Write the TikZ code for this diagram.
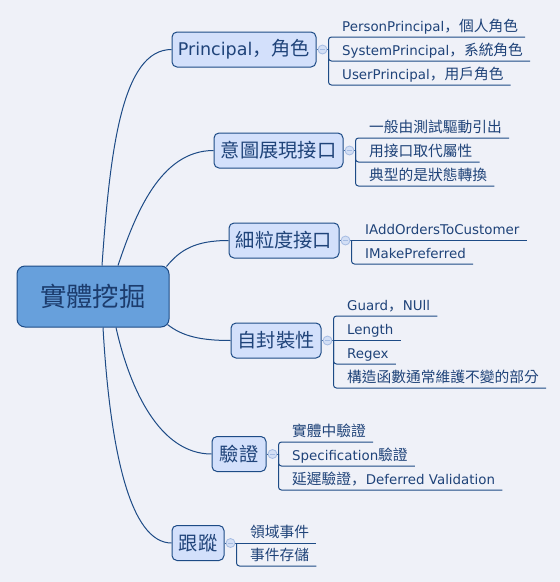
\documentclass[tikz,border=0pt]{standalone}
\usepackage{fontspec}
\setmainfont{DejaVu Sans}
\newfontfamily\cjk[Scale=1.1]{Noto Sans CJK TC}
\newfontfamily\cjkp[Scale=1.1]{Noto Sans CJK JP}
\usetikzlibrary{calc}
\definecolor{bgc}{HTML}{EFF1F8}
\definecolor{linec}{HTML}{1D4B86}
\definecolor{txtc}{HTML}{1F4379}
\definecolor{boxfill}{HTML}{D3E0FB}
\definecolor{rootfill}{HTML}{67A0DC}
\definecolor{circfill}{HTML}{D3DFF5}
\definecolor{circline}{HTML}{A5BCE3}
\pgfdeclarelayer{bg}
\pgfsetlayers{bg,main}
\begin{document}
\begin{tikzpicture}[x=1pt,y=-1pt,
  conn/.style={draw=linec, line width=1pt},
  branch/.style={draw=linec, line width=1pt, fill=boxfill, rounded corners=5pt,
    minimum height=35pt, inner sep=0pt, text=txtc, font=\fontsize{17.5}{20}\selectfont},
  rootbox/.style={draw=linec, line width=1pt, fill=rootfill, rounded corners=8pt,
    minimum width=152pt, minimum height=61pt, inner sep=0pt, text=txtc!90!black,
    font=\fontsize{24}{26}\selectfont},
  leaf/.style={anchor=base west, inner sep=0pt, text=txtc, font=\fontsize{13.4}{15}\selectfont},
  fold/.style={circle, draw=circline, fill=circfill, minimum size=9pt, inner sep=0pt,
    line width=0.8pt},
]
\useasboundingbox (0,0) rectangle (560,582);
\begin{pgfonlayer}{bg}
\fill[bgc] (0,0) rectangle (560,582);
\end{pgfonlayer}

% root
\node[rootbox] (root) at (93,296.5) {\cjk 實體挖掘};

% branches
\node[branch, minimum width=144pt] (pr) at (244,49.5) {Principal{\cjkp，}\cjk 角色};
\node[branch, minimum width=129pt] (yt) at (278.5,150.5) {\cjk 意圖展現接口};
\node[branch, minimum width=110pt] (xl) at (284,240.5) {\cjk 細粒度接口};
\node[branch, minimum width=90pt]  (zf) at (276,340.5) {\cjk 自封裝性};
\node[branch, minimum width=54pt]  (yz) at (239,454) {\cjk 驗證};
\node[branch, minimum width=52pt]  (gz) at (198,543) {\cjk 跟蹤};

% fold circles and junctions
\foreach \b in {pr,yt,xl,zf,yz,gz}{
  \node[fold] (\b c) at ($(\b.east)+(6,0)$) {};
  \draw[circline, line width=0.8pt] ($(\b c.center)+(-2.5,0)$) -- ($(\b c.center)+(2.5,0)$);
  \coordinate (\b J) at ($(\b.east)+(12,0)$);
}

% leaves
\node[leaf] (pr1) at (342,31) {PersonPrincipal{\cjkp，}\cjk 個人角色};
\node[leaf] (pr2) at (342,55) {SystemPrincipal{\cjkp，}\cjk 系統角色};
\node[leaf] (pr3) at (342,79) {UserPrincipal{\cjkp，}\cjk 用戶角色};

\node[leaf] (yt1) at (369,132) {\cjk 一般由測試驅動引出};
\node[leaf] (yt2) at (369,156) {\cjk 用接口取代屬性};
\node[leaf] (yt3) at (369,180) {\cjk 典型的是狀態轉換};

\node[leaf] (xl1) at (365,234.5) {IAddOrdersToCustomer};
\node[leaf] (xl2) at (365,258) {IMakePreferred};

\node[leaf] (zf1) at (347,310) {Guard{\cjkp，}NUll};
\node[leaf] (zf2) at (347,334.5) {Length};
\node[leaf] (zf3) at (347,358) {Regex};
\node[leaf] (zf4) at (347,382) {\cjk 構造函數通常維護不變的部分};

\node[leaf] (yz1) at (292,436) {\cjk 實體中驗證};
\node[leaf] (yz2) at (292,460) {Specification\cjk 驗證};
\node[leaf] (yz3) at (292,484) {\cjk 延遲驗證{\cjkp，}\normalfont Deferred Validation};

\node[leaf] (gz1) at (250,537) {\cjk 領域事件};
\node[leaf] (gz2) at (250,560) {\cjk 事件存儲};

\begin{pgfonlayer}{bg}
% root to branch curves
\draw[conn] ($(root.north)+(9,0)$) .. controls (110,150) and (122,49.5) .. (pr.west);
\draw[conn] ($(root.north)+(25,0)$) .. controls (135,215) and (160,150.5) .. (yt.west);
\draw[conn] ($(root.north east)+(-3,1)$) .. controls (180,250) and (195,240.5) .. (xl.west);
\draw[conn] ($(root.south east)+(-2,-3)$) .. controls (182,336) and (200,340.5) .. (zf.west);
\draw[conn] ($(root.south)+(23,0)$) .. controls (130,390) and (160,454) .. (yz.west);
\draw[conn] ($(root.south)+(10,0)$) .. controls (110,450) and (130,543) .. (gz.west);

% stubs
\foreach \b in {pr,yt,xl,zf,yz,gz}{
  \draw[conn] (\b.east) -- (\b J);
}

% brackets and underlines
\foreach \l in {pr1,pr2,pr3}{
  \draw[conn, rounded corners=3pt] (prJ) |- ($(\l.base east)+(7,6)$);}
\foreach \l in {yt1,yt2,yt3}{
  \draw[conn, rounded corners=3pt] (ytJ) |- ($(\l.base east)+(7,6)$);}
\draw[conn] (xlJ) -- ($(xl1.base east)+(7,6)$);
\draw[conn, rounded corners=3pt] (xlJ) |- ($(xl2.base east)+(7,6)$);
\foreach \l in {zf1,zf3,zf4}{
  \draw[conn, rounded corners=3pt] (zfJ) |- ($(\l.base east)+(7,6)$);}
\draw[conn] (zfJ) -- ($(zf2.base east)+(7,6)$);
\foreach \l in {yz1,yz2,yz3}{
  \draw[conn, rounded corners=3pt] (yzJ) |- ($(\l.base east)+(7,6)$);}
\draw[conn] (gzJ) -- ($(gz1.base east)+(7,6)$);
\draw[conn, rounded corners=3pt] (gzJ) |- ($(gz2.base east)+(7,6)$);
\end{pgfonlayer}
\end{tikzpicture}
\end{document}
